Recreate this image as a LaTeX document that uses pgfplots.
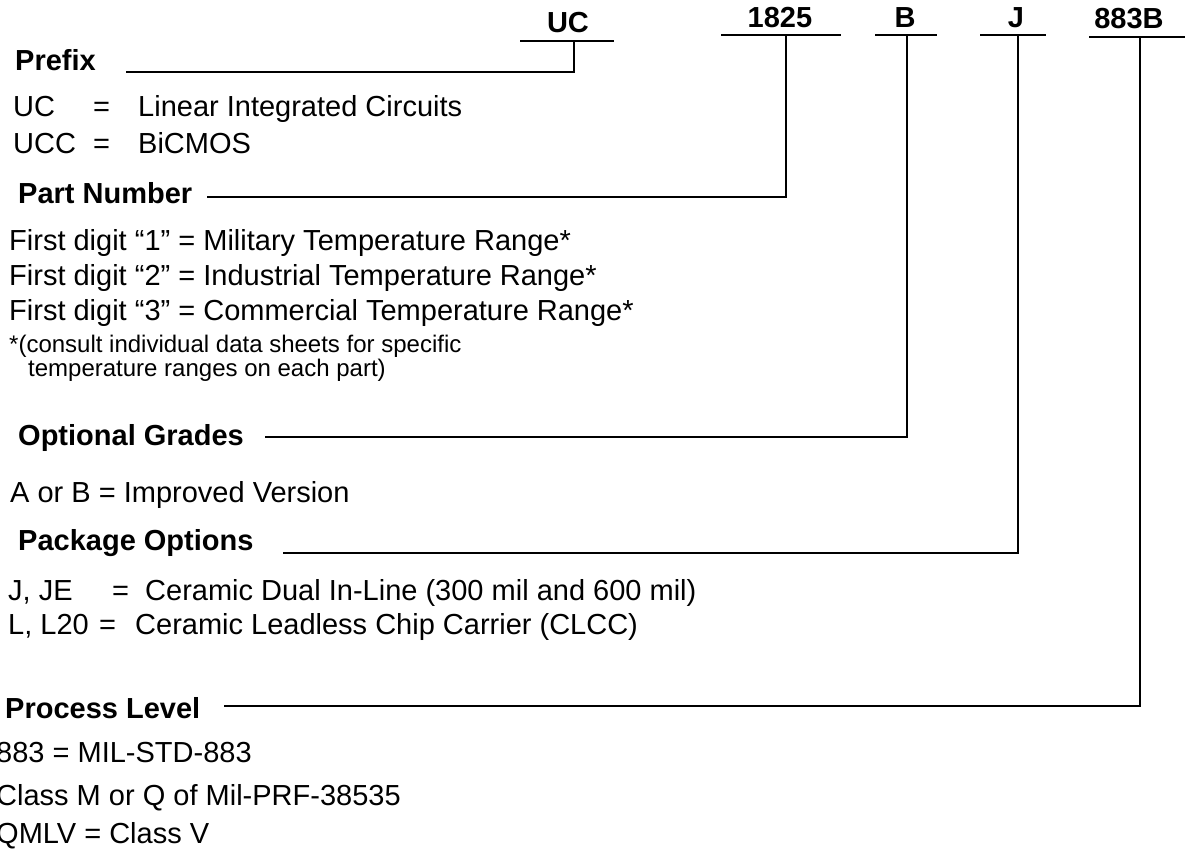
\documentclass[border=0pt]{standalone}
\usepackage{fontspec}
\setmainfont{Liberation Sans}
\usepackage{pgfplots}
\pgfplotsset{compat=1.18}
\pgfplotsset{ld/.style={black, solid, line width=2.6bp, line join=miter, line cap=butt, mark=none}}
\newcommand{\bodyf}{\fontsize{29bp}{35bp}\selectfont}
\newcommand{\hdrf}{\fontsize{29bp}{35bp}\selectfont\bfseries}
\newcommand{\notef}{\fontsize{24bp}{29bp}\selectfont}
\begin{document}
\begin{tikzpicture}
\begin{axis}[width=1185bp, height=851bp, scale only axis,
  xmin=0, xmax=1185, ymin=0, ymax=851, y dir=reverse,
  axis lines=none, clip=false]
% underlines of the part-number fields
\addplot[ld] coordinates {(520,41) (614,41)};
\addplot[ld] coordinates {(721,35) (841,35)};
\addplot[ld] coordinates {(875,35) (937,35)};
\addplot[ld] coordinates {(980,35) (1046,35)};
\addplot[ld] coordinates {(1089,37) (1185,37)};
% leader lines
\addplot[ld] coordinates {(126,72) (574,72) (574,41)};
\addplot[ld] coordinates {(207,197) (786,197) (786,35)};
\addplot[ld] coordinates {(265,437) (907,437) (907,35)};
\addplot[ld] coordinates {(283,553) (1018,553) (1018,35)};
\addplot[ld] coordinates {(224,706) (1140,706) (1140,37)};
% field labels
\node[anchor=base, font=\hdrf] at (axis cs:568,33) {UC};
\node[anchor=base, font=\hdrf] at (axis cs:780,28) {1825};
\node[anchor=base, font=\hdrf] at (axis cs:905,28) {B};
\node[anchor=base, font=\hdrf] at (axis cs:1016,28) {J};
\node[anchor=base, font=\hdrf] at (axis cs:1129,29) {883B};
% Prefix
\node[anchor=base west, inner sep=0pt, font=\hdrf] at (axis cs:15,71) {Prefix};
\node[anchor=base west, inner sep=0pt, font=\bodyf] at (axis cs:13,117) {UC};
\node[anchor=base west, inner sep=0pt, font=\bodyf] at (axis cs:93,117) {=};
\node[anchor=base west, inner sep=0pt, font=\bodyf] at (axis cs:138,117) {Linear Integrated Circuits};
\node[anchor=base west, inner sep=0pt, font=\bodyf] at (axis cs:13,153) {UCC};
\node[anchor=base west, inner sep=0pt, font=\bodyf] at (axis cs:93,153) {=};
\node[anchor=base west, inner sep=0pt, font=\bodyf] at (axis cs:138,153) {BiCMOS};
% Part Number
\node[anchor=base west, inner sep=0pt, font=\hdrf] at (axis cs:18,203) {Part Number};
\node[anchor=base west, inner sep=0pt, font=\bodyf] at (axis cs:9,250) {First digit “1” = Military Temperature Range*};
\node[anchor=base west, inner sep=0pt, font=\bodyf] at (axis cs:9,285) {First digit “2” = Industrial Temperature Range*};
\node[anchor=base west, inner sep=0pt, font=\bodyf] at (axis cs:9,320) {First digit “3” = Commercial Temperature Range*};
\node[anchor=base west, inner sep=0pt, font=\notef] at (axis cs:9,352) {*(consult individual data sheets for specific};
\node[anchor=base west, inner sep=0pt, font=\notef] at (axis cs:28,376) {temperature ranges on each part)};
% Optional Grades
\node[anchor=base west, inner sep=0pt, font=\hdrf] at (axis cs:18,445) {Optional Grades};
\node[anchor=base west, inner sep=0pt, font=\bodyf] at (axis cs:10,502) {A or B = Improved Version};
% Package Options
\node[anchor=base west, inner sep=0pt, font=\hdrf] at (axis cs:18,550) {Package Options};
\node[anchor=base west, inner sep=0pt, font=\bodyf] at (axis cs:8,600) {J, JE};
\node[anchor=base west, inner sep=0pt, font=\bodyf] at (axis cs:112,600) {=};
\node[anchor=base west, inner sep=0pt, font=\bodyf] at (axis cs:145,600) {Ceramic Dual In-Line (300 mil and 600 mil)};
\node[anchor=base west, inner sep=0pt, font=\bodyf] at (axis cs:8,634) {L, L20};
\node[anchor=base west, inner sep=0pt, font=\bodyf] at (axis cs:99,634) {=};
\node[anchor=base west, inner sep=0pt, font=\bodyf] at (axis cs:135,634) {Ceramic Leadless Chip Carrier (CLCC)};
% Process Level
\node[anchor=base west, inner sep=0pt, font=\hdrf] at (axis cs:5,718) {Process Level};
\node[anchor=base west, inner sep=0pt, font=\bodyf] at (axis cs:-4,762) {883 = MIL-STD-883};
\node[anchor=base west, inner sep=0pt, font=\bodyf] at (axis cs:-4,805) {Class M or Q of Mil-PRF-38535};
\node[anchor=base west, inner sep=0pt, font=\bodyf] at (axis cs:-4,843) {QMLV = Class V};
\end{axis}
\pgfresetboundingbox
\useasboundingbox (0,0) rectangle (1185bp,851bp);
\end{tikzpicture}
\end{document}
